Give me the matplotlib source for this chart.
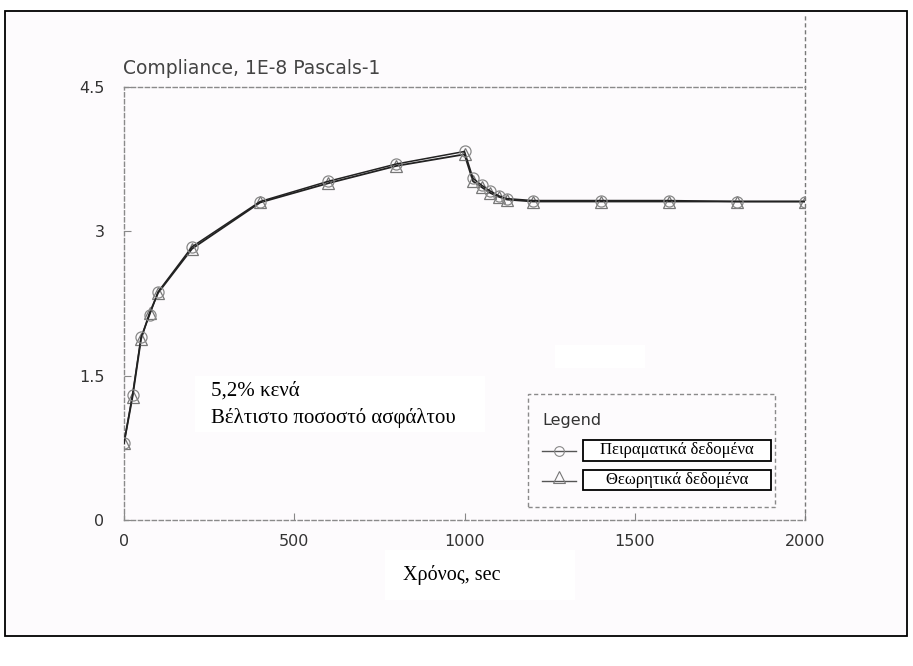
import matplotlib
matplotlib.use("Agg")
import matplotlib.pyplot as plt
from matplotlib.patches import Rectangle
from matplotlib.lines import Line2D

# Creep compliance test data
time_s = [0, 25, 50, 75, 100, 200, 400, 600, 800, 1000,
          1025, 1050, 1075, 1100, 1125, 1200, 1400, 1600, 1800, 2000]
experimental = [0.80, 1.30, 1.90, 2.13, 2.37, 2.84, 3.31, 3.52, 3.70, 3.83,
                3.55, 3.48, 3.42, 3.37, 3.34, 3.32, 3.32, 3.32, 3.31, 3.31]
theoretical = [0.80, 1.28, 1.88, 2.15, 2.36, 2.82, 3.30, 3.50, 3.68, 3.80,
               3.52, 3.46, 3.40, 3.36, 3.33, 3.31, 3.31, 3.31, 3.31, 3.31]

x_ticks = [0, 500, 1000, 1500, 2000]
y_ticks = [0, 1.5, 3, 4.5]
y_tick_labels = ["0", "1.5", "3", "4.5"]

W, H = 913, 666
fig = plt.figure(figsize=(W / 100, H / 100), dpi=100, facecolor="white")

def fx(px):
    return px / W

def fy(py):
    return 1 - py / H

# outer frame
fig.patches.append(Rectangle((fx(5), fy(636)), fx(907) - fx(5), fy(11) - fy(636),
                             transform=fig.transFigure, facecolor="#fdfbfd",
                             edgecolor="black", linewidth=1.3, zorder=-5))

ax = fig.add_axes([fx(124), fy(520), fx(805) - fx(124), fy(87) - fy(520)])
ax.set_zorder(0.5)
ax.set_facecolor("none")
ax.set_xlim(0, 2000)
ax.set_ylim(0, 4.5)

for side in ["left", "top", "bottom", "right"]:
    ax.spines[side].set_linestyle((0, (3, 2)))
    ax.spines[side].set_color("#8a8a8a")
    ax.spines[side].set_linewidth(1.0)
ax.spines["right"].set_visible(False)
# right border line continues up toward the frame
ax.plot([2000, 2000], [0, 4.5 + (87 - 14) / 96.2], color="#777777", lw=1.0,
        ls=(0, (3, 2)), clip_on=False)

ax.set_xticks(x_ticks)
ax.set_yticks(y_ticks)
ax.set_yticklabels(y_tick_labels)
ax.tick_params(axis="both", direction="in", length=5, color="#888888",
               labelsize=11.5, labelcolor="#333333")
ax.tick_params(axis="x", pad=10)
ax.tick_params(axis="y", pad=14)

ax.plot(time_s, theoretical, color="#222222", lw=1.3, marker="^", ms=9,
        mfc="none", mec="#777777", mew=0.9, zorder=3)
ax.plot(time_s, experimental, color="#222222", lw=1.1, marker="o", ms=8,
        mfc="none", mec="#888888", mew=0.9, zorder=3)

# y-axis quantity title
fig.text(fx(123), fy(68), "Compliance, 1E-8 Pascals-1", fontsize=13.5,
         color="#444444", va="center", ha="left", family="DejaVu Sans")

# annotation box
fig.patches.append(Rectangle((fx(195), fy(432)), fx(485) - fx(195), fy(376) - fy(432),
                             transform=fig.transFigure, facecolor="white",
                             edgecolor="none", zorder=1))
fig.patches.append(Rectangle((fx(555), fy(368)), fx(645) - fx(555), fy(345) - fy(368),
                             transform=fig.transFigure, facecolor="white",
                             edgecolor="none", zorder=1))
fig.text(fx(211), fy(396), "5,2% κενά", fontsize=15, family="Liberation Serif",
         color="black", va="baseline", ha="left", zorder=2)
fig.text(fx(211), fy(423), "Βέλτιστο ποσοστό ασφάλτου", fontsize=15,
         family="Liberation Serif", color="black", va="baseline", ha="left", zorder=2)

# legend
fig.patches.append(Rectangle((fx(528), fy(507)), fx(775) - fx(528), fy(394) - fy(507),
                             transform=fig.transFigure, facecolor="#fdfbfd",
                             edgecolor="#8a8a8a", linewidth=1.0,
                             linestyle=(0, (3, 2)), zorder=2))
fig.text(fx(542), fy(425), "Legend", fontsize=11.5, color="#333333",
         family="DejaVu Sans", va="baseline", ha="left", zorder=3)
fig.lines.append(Line2D([fx(542), fx(576)], [fy(451), fy(451)], transform=fig.transFigure,
                        color="#555555", lw=1.0, zorder=3))
fig.lines.append(Line2D([fx(559)], [fy(451)], transform=fig.transFigure, color="#888888",
                        marker="o", ms=7, mfc="none", mew=0.8, zorder=3))
fig.lines.append(Line2D([fx(542), fx(576)], [fy(481), fy(481)], transform=fig.transFigure,
                        color="#555555", lw=1.0, zorder=3))
fig.lines.append(Line2D([fx(559)], [fy(477)], transform=fig.transFigure, color="#777777",
                        marker="^", ms=8, mfc="none", mew=0.8, zorder=3))
for (top, bot, label) in [(440, 461, "Πειραματικά δεδομένα"),
                          (470, 490, "Θεωρητικά δεδομένα")]:
    fig.patches.append(Rectangle((fx(583), fy(bot)), fx(771) - fx(583), fy(top) - fy(bot),
                                 transform=fig.transFigure, facecolor="white",
                                 edgecolor="black", linewidth=1.3, zorder=3))
    fig.text(fx(677), fy((top + bot) / 2), label, fontsize=12,
             family="Liberation Serif", color="black", ha="center", va="center",
             zorder=4)

# x-axis label
fig.patches.append(Rectangle((fx(385), fy(600)), fx(575) - fx(385), fy(550) - fy(600),
                             transform=fig.transFigure, facecolor="white",
                             edgecolor="none", zorder=1))
fig.text(fx(452), fy(575), "Χρόνος, sec", fontsize=14.5, family="Liberation Serif",
         color="black", ha="center", va="center", zorder=2)

fig.savefig("out.png", dpi=100, facecolor="white")
